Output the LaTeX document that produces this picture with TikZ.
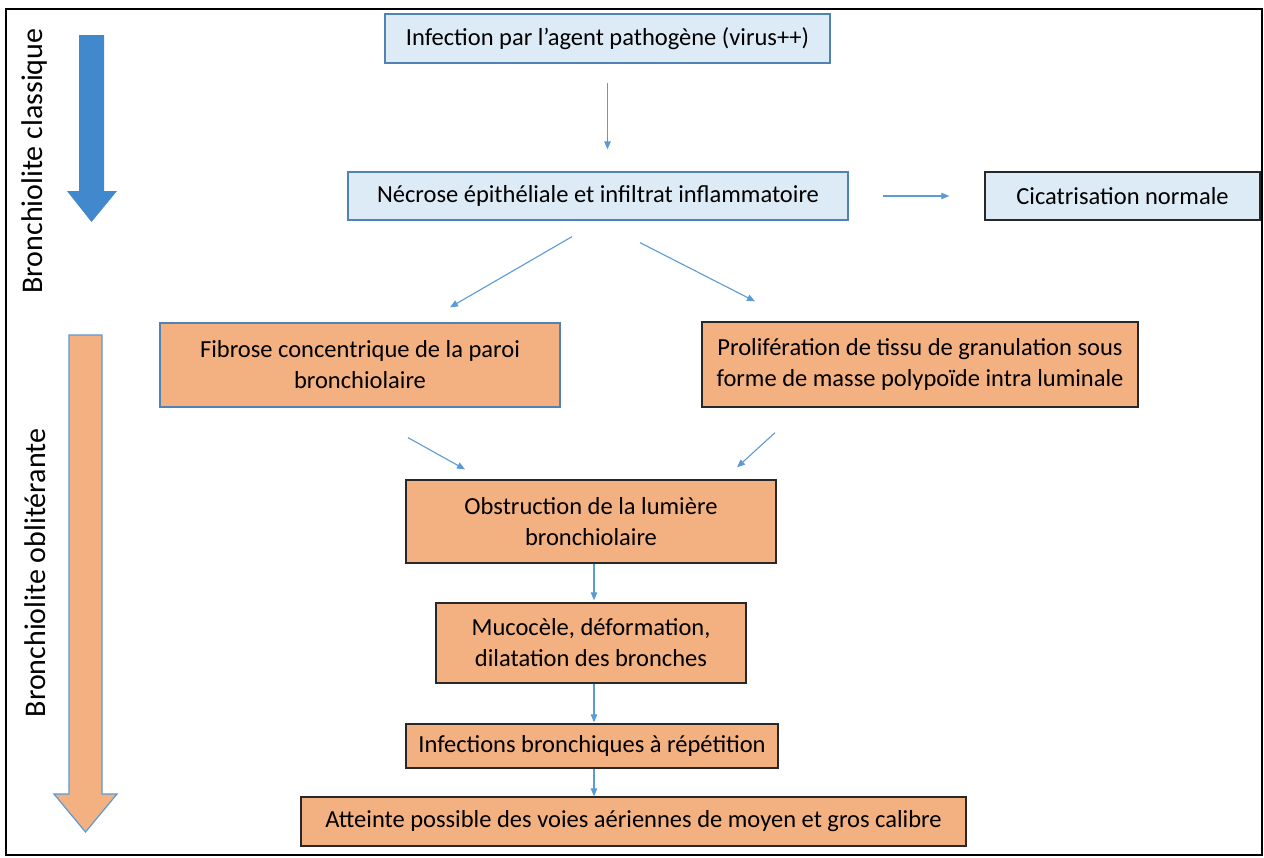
\documentclass[tikz,border=0pt]{standalone}
\usepackage{fontspec}
\setmainfont{Carlito}
\usetikzlibrary{arrows.meta,calc}
\definecolor{boxblue}{RGB}{221,235,247}
\definecolor{edgeblue}{RGB}{80,130,180}
\definecolor{boxorange}{RGB}{243,176,128}
\definecolor{edgedark}{RGB}{40,40,40}
\definecolor{linkblue}{RGB}{91,155,213}
\definecolor{bigblue}{RGB}{66,136,204}
\begin{document}
\begin{tikzpicture}[x=1pt,y=-1pt,
  bluebox/.style={draw=edgeblue,fill=boxblue,line width=1.3pt,inner sep=0pt,align=center,font=\fontsize{24.5}{31}\selectfont},
  orangebox/.style={draw=edgedark,fill=boxorange,line width=1.3pt,inner sep=0pt,align=center,font=\fontsize{24.5}{31}\selectfont},
  link/.style={draw=linkblue,line width=1.1pt,-{Triangle[length=8pt,width=6.5pt]}},
  sidelabel/.style={rotate=90,font=\fontsize{30}{34}\selectfont,inner sep=0pt}]
\useasboundingbox (0,0) rectangle (1264,857);
\fill[white] (0,0) rectangle (1264,857);
\draw[black,line width=2pt] (6,9) rectangle (1262,855);
% side arrows
\fill[bigblue] (79,35) -- (104,35) -- (104,191) -- (117,191) -- (91.5,222) -- (67,191) -- (79,191) -- cycle;
\filldraw[fill=boxorange,draw=linkblue,line width=1.2pt] (69,335) -- (102,335) -- (102,794) -- (117,794) -- (85.5,832) -- (54,794) -- (69,794) -- cycle;
\node[sidelabel] (lc) at (35,161) {Bronchiolite classique};
\node[sidelabel] (lo) at (35,573) {Bronchiolite oblitérante};
% boxes
\node[bluebox,minimum width=445pt,minimum height=49pt] (inf) at (607.5,38.5) {Infection par l’agent pathogène (virus++)};
\node[bluebox,minimum width=500pt,minimum height=48pt] (nec) at (598,196) {Nécrose épithéliale et infiltrat inflammatoire};
\node[bluebox,draw=edgedark,minimum width=275pt,minimum height=48pt] (cic) at (1122.5,196) {Cicatrisation normale};
\node[orangebox,draw=edgeblue,minimum width=400pt,minimum height=84pt] (fib) at (360,365) {Fibrose concentrique de la paroi\\bronchiolaire};
\node[orangebox,minimum width=436pt,minimum height=85pt] (pro) at (920,364.5) {Prolifération de tissu de granulation sous\\forme de masse polypoïde intra luminale};
\node[orangebox,minimum width=370pt,minimum height=83pt] (obs) at (591,521.5) {Obstruction de la lumière\\bronchiolaire};
\node[orangebox,minimum width=310pt,minimum height=80pt] (muc) at (591,643) {Mucocèle, déformation,\\dilatation des bronches};
\node[orangebox,minimum width=372pt,minimum height=44pt] (rep) at (592,746) {Infections bronchiques à répétition};
\node[orangebox,minimum width=665pt,minimum height=49pt] (att) at (633.5,821.5) {Atteinte possible des voies aériennes de moyen et gros calibre};
% connectors
\draw[link,shorten <=19pt,shorten >=22pt] (inf.south) -- (inf.south |- nec.north);
\draw[link,shorten <=34pt,shorten >=35pt] (nec.east) -- (cic.west);
\coordinate (n1) at ($(nec.south)+(-26,16)$);
\coordinate (f1) at ($(fib.north)+(90,-15)$);
\coordinate (n2) at ($(nec.south)+(42,22)$);
\coordinate (p1) at ($(pro.north)+(-165,-20)$);
\draw[link] (n1) -- (f1);
\draw[link] (n2) -- (p1);
\coordinate (f2) at ($(fib.south)+(48,30)$);
\coordinate (o1) at ($(obs.north)+(-126,-10)$);
\coordinate (p2) at ($(pro.south)+(-145,25)$);
\coordinate (o2) at ($(obs.north)+(146,-12)$);
\draw[link] (f2) -- (o1);
\draw[link] (p2) -- (o2);
\draw[link,shorten >=2pt] ([xshift=3pt]obs.south) -- ([xshift=3pt]muc.north);
\draw[link,shorten >=1pt] ([xshift=3pt]muc.south) -- ([xshift=2pt]rep.north);
\draw[link] ([xshift=2pt]rep.south) -- ($(att.north)+(-39.5,0)$);
\end{tikzpicture}
\end{document}
